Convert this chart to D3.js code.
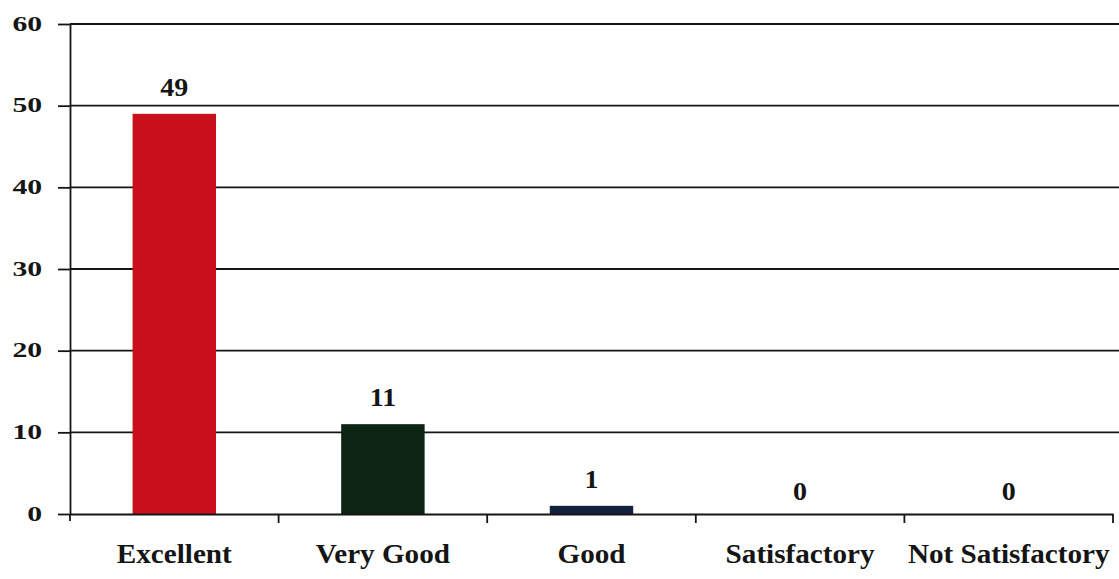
<!DOCTYPE html>
<html><head><meta charset="utf-8">
<script src="https://cdn.jsdelivr.net/npm/d3@7"></script>
<style>body{margin:0;background:#fff}svg{display:block}</style>
</head><body><svg id="c" width="1119" height="579"></svg>
<script>
const categories = ["Excellent","Very Good","Good","Satisfactory","Not Satisfactory"];
const values = [49, 11, 1, 0, 0];
const colors = ["#c9101a","#0e2412","#14213d","#14213d","#14213d"];
const yTicks = [0,10,20,30,40,50,60];

const svg = d3.select("#c");
const m = {l:70, r:6, t:24, b:65};
const W = 1119, H = 579;
const x = d3.scaleBand().domain(categories).range([m.l, W - m.r]).paddingInner(0.6).paddingOuter(0.3);
const y = d3.scaleLinear().domain([0,60]).range([H - m.b, m.t]);
const font = "'Liberation Serif','Times New Roman',serif";
const ink = "#151515";

// gridlines
svg.append("g").selectAll("line").data(yTicks.filter(d=>d>0)).join("line")
  .attr("x1", m.l).attr("x2", W).attr("y1", d=>y(d)).attr("y2", d=>y(d))
  .attr("stroke",ink).attr("stroke-width",1.8);

// bars
svg.append("g").selectAll("rect").data(values).join("rect")
  .attr("x",(d,i)=>x(categories[i])).attr("width",x.bandwidth())
  .attr("y",d=>y(d)).attr("height",d=>y(0)-y(d))
  .attr("fill",(d,i)=>colors[i]);

// y axis
const ya = svg.append("g").attr("transform",`translate(${m.l},0)`)
  .call(d3.axisLeft(y).tickValues(yTicks).tickSize(12).tickSizeOuter(0).tickPadding(8.7));
ya.select(".domain").attr("stroke",ink).attr("stroke-width",1.8);
ya.selectAll(".tick line").attr("stroke",ink).attr("stroke-width",1.8);
ya.selectAll("text").attr("font-family",font).attr("font-weight","bold")
  .attr("font-size",22).attr("fill",ink).attr("dy","0.28em").attr("transform","scale(1.35,1)");
// axis extension below zero
svg.append("line").attr("x1",m.l).attr("x2",m.l).attr("y1",y(0)).attr("y2",y(0)+7)
  .attr("stroke",ink).attr("stroke-width",1.8);

// x axis
const xa = svg.append("g").attr("transform",`translate(0,${y(0)})`)
  .call(d3.axisBottom(x).tickSize(0).tickPadding(30));
xa.select(".domain").attr("stroke",ink).attr("stroke-width",1.8);
xa.selectAll("text").attr("font-family",font).attr("font-weight","bold")
  .attr("font-size",27).attr("fill",ink).attr("transform","scale(1.08,1)");
// category boundary ticks
const bounds = categories.slice(1).map(c => x(c) - x.step()*x.paddingInner()/2);
bounds.push(W - m.r);
svg.append("g").selectAll("line").data(bounds).join("line")
  .attr("x1",d=>d).attr("x2",d=>d).attr("y1",y(0)).attr("y2",y(0)+9)
  .attr("stroke",ink).attr("stroke-width",1.8);

// value labels
svg.append("g").selectAll("text").data(values).join("text")
  .attr("transform",(d,i)=>`translate(${x(categories[i])+x.bandwidth()/2},${y(d)-(d===0?14:18)}) scale(1.12,1)`)
  .attr("text-anchor","middle")
  .attr("font-family",font).attr("font-weight","bold").attr("font-size",25).attr("fill",ink)
  .text(d=>d);
</script></body></html>
